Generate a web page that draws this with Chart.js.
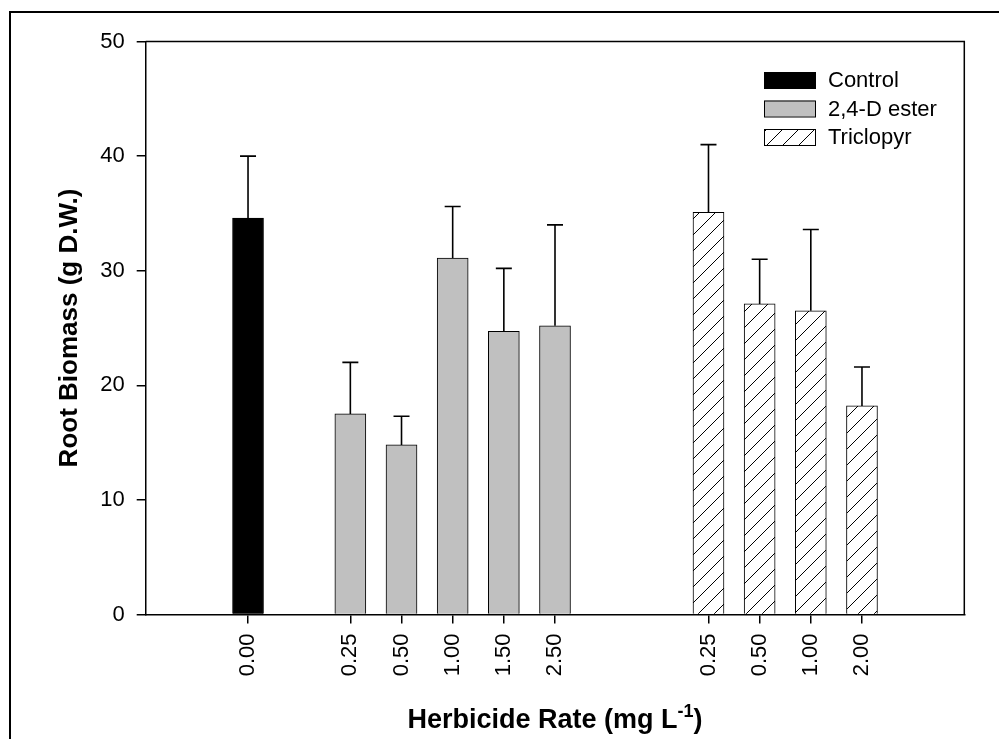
<!DOCTYPE html>
<html>
<head>
<meta charset="utf-8">
<script src="https://cdn.jsdelivr.net/npm/chart.js@4.4.1/dist/chart.umd.min.js"></script>
<style>
  html, body { margin: 0; padding: 0; background: #fff; }
  #wrap { width: 999px; height: 739px; position: relative; }
</style>
</head>
<body>
<div id="wrap"><canvas id="c" width="999" height="739"></canvas></div>
<script>
// ---- Data ----
const controlPos = [2];
const controlLabels = ["0.00"];
const controlMean = [34.6];
const controlErr = [5.4];

const dPos = [4, 5, 6, 7, 8];
const dLabels = ["0.25", "0.50", "1.00", "1.50", "2.50"];
const dMean = [17.5, 14.8, 31.1, 24.7, 25.2];
const dErr = [4.5, 2.5, 4.5, 5.5, 8.8];

const tPos = [11, 12, 13, 14];
const tLabels = ["0.25", "0.50", "1.00", "2.00"];
const tMean = [35.1, 27.1, 26.5, 18.2];
const tErr = [5.9, 3.9, 7.1, 3.4];

const yTicks = [0, 10, 20, 30, 40, 50];
const seriesNames = ["Control", "2,4-D ester", "Triclopyr"];
const xTitleMain = "Herbicide Rate (mg L";
const xTitleSup = "-1";
const xTitleEnd = ")";
const yTitle = "Root Biomass (g D.W.)";

// ---- Hatch pattern ----
function makeHatch() {
  const s = 16;
  const pc = document.createElement('canvas');
  pc.width = s; pc.height = s;
  const g = pc.getContext('2d');
  g.fillStyle = '#fff';
  g.fillRect(0, 0, s, s);
  g.strokeStyle = '#000';
  g.lineWidth = 1;
  g.beginPath();
  g.moveTo(-2, s + 2); g.lineTo(s + 2, -2);
  g.moveTo(-2, 2); g.lineTo(2, -2);
  g.moveTo(s - 2, s + 2); g.lineTo(s + 2, s - 2);
  g.stroke();
  return document.getElementById('c').getContext('2d').createPattern(pc, 'repeat');
}
const hatch = makeHatch();

const allPos = controlPos.concat(dPos, tPos);
const allLabels = controlLabels.concat(dLabels, tLabels);

function pts(pos, vals) { return pos.map((p, i) => ({ x: p, y: vals[i] })); }

const FONT = "'Liberation Sans', Arial, sans-serif";

const errorBars = {
  id: 'errorBars',
  afterDatasetsDraw(chart) {
    const ctx = chart.ctx;
    const xs = chart.scales.x, ys = chart.scales.y;
    const groups = [[controlPos, controlMean, controlErr], [dPos, dMean, dErr], [tPos, tMean, tErr]];
    ctx.save();
    ctx.strokeStyle = '#000';
    ctx.lineWidth = 1.6;
    groups.forEach(([pos, m, e]) => {
      pos.forEach((p, i) => {
        const x = xs.getPixelForValue(p);
        const y0 = ys.getPixelForValue(m[i]);
        const y1 = ys.getPixelForValue(m[i] + e[i]);
        ctx.beginPath();
        ctx.moveTo(x, y0); ctx.lineTo(x, y1);
        ctx.moveTo(x - 8, y1); ctx.lineTo(x + 8, y1);
        ctx.stroke();
      });
    });
    ctx.restore();
  }
};

const decor = {
  id: 'decor',
  afterDraw(chart) {
    const ctx = chart.ctx;
    const a = chart.chartArea;
    ctx.save();
    // outer frame
    ctx.strokeStyle = '#000';
    ctx.lineWidth = 2;
    ctx.strokeRect(10, 12, 1200, 1000);
    // plot box top/right
    ctx.lineWidth = 1.5;
    ctx.beginPath();
    ctx.moveTo(a.left, a.top); ctx.lineTo(a.right, a.top); ctx.lineTo(a.right, a.bottom);
    ctx.stroke();

    // legend
    const fills = ['#000', '#c0c0c0', hatch];
    const bx = 764, by = 72, bw = 51, bh = 16, gap = 28.5;
    ctx.font = "22px " + FONT;
    ctx.textBaseline = 'middle';
    ctx.textAlign = 'left';
    seriesNames.forEach((n, i) => {
      const y = by + i * gap;
      ctx.fillStyle = fills[i];
      ctx.fillRect(bx, y, bw, bh);
      ctx.lineWidth = 1;
      ctx.strokeStyle = '#000';
      ctx.strokeRect(bx + 0.5, y + 0.5, bw, bh);
      ctx.fillStyle = '#000';
      ctx.fillText(n, bx + 64, y + bh / 2 + 1);
    });

    // y title
    ctx.fillStyle = '#000';
    ctx.font = "bold 26px " + FONT;
    ctx.textAlign = 'center';
    ctx.textBaseline = 'alphabetic';
    ctx.save();
    ctx.translate(77, (a.top + a.bottom) / 2);
    ctx.rotate(-Math.PI / 2);
    ctx.fillText(yTitle, 0, 0);
    ctx.restore();

    // x title with superscript
    const mainF = "bold 27px " + FONT, supF = "bold 18px " + FONT;
    ctx.font = mainF; const w1 = ctx.measureText(xTitleMain).width; const w3 = ctx.measureText(xTitleEnd).width;
    ctx.font = supF; const w2 = ctx.measureText(xTitleSup).width;
    const total = w1 + w2 + w3;
    let x = (a.left + a.right) / 2 - total / 2;
    const base = 728;
    ctx.textAlign = 'left';
    ctx.font = mainF; ctx.fillText(xTitleMain, x, base); x += w1;
    ctx.font = supF; ctx.fillText(xTitleSup, x, base - 11); x += w2;
    ctx.font = mainF; ctx.fillText(xTitleEnd, x, base);
    ctx.restore();
  }
};

new Chart(document.getElementById('c'), {
  type: 'bar',
  data: {
    datasets: [
      { label: seriesNames[0], data: pts(controlPos, controlMean), backgroundColor: '#000', borderColor: '#000', borderWidth: 1 },
      { label: seriesNames[1], data: pts(dPos, dMean), backgroundColor: '#c0c0c0', borderColor: '#000', borderWidth: 1 },
      { label: seriesNames[2], data: pts(tPos, tMean), backgroundColor: hatch, borderColor: '#000', borderWidth: 1 }
    ]
  },
  options: {
    responsive: false,
    animation: false,
    devicePixelRatio: 1,
    layout: { padding: { top: 41.5, right: 34.7, left: 0, bottom: 0 } },
    datasets: { bar: { barThickness: 31, grouped: false } },
    plugins: { legend: { display: false }, tooltip: { enabled: false } },
    scales: {
      x: {
        type: 'linear', min: 0, max: 16, offset: false,
        afterFit(s) { s.height = 124.5; },
        afterBuildTicks(s) { s.ticks = allPos.map(v => ({ value: v })); },
        grid: { offset: false, drawOnChartArea: false, drawTicks: true, tickLength: 9, color: '#000', lineWidth: 1.5 },
        border: { display: true, color: '#000', width: 1.5 },
        ticks: {
          color: '#000', font: { family: FONT, size: 22 }, padding: 10,
          maxRotation: 90, minRotation: 90, autoSkip: false,
          callback(v) { const i = allPos.indexOf(v); return i >= 0 ? allLabels[i] : ''; }
        }
      },
      y: {
        min: 0, max: 50,
        afterFit(s) { s.width = 145.7; },
        afterBuildTicks(s) { s.ticks = yTicks.map(v => ({ value: v })); },
        grid: { drawOnChartArea: false, drawTicks: true, tickLength: 9, color: '#000', lineWidth: 1.5 },
        border: { display: true, color: '#000', width: 1.5 },
        ticks: { color: '#000', font: { family: FONT, size: 22 }, padding: 12 }
      }
    }
  },
  plugins: [errorBars, decor]
});
</script>
</body>
</html>
